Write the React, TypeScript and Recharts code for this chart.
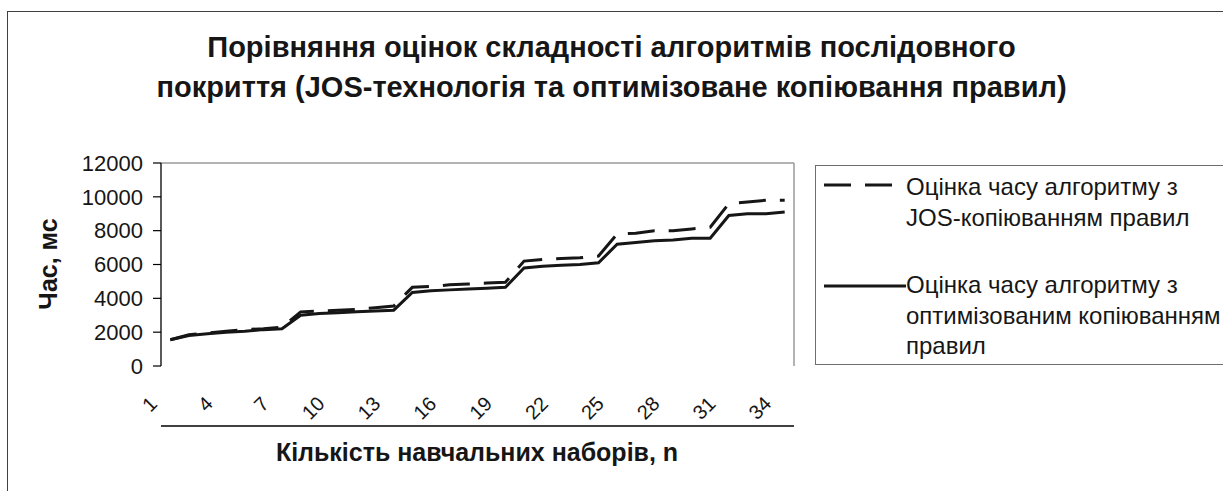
import React from 'react';
import { LineChart, Line, XAxis, YAxis, ReferenceLine, Legend } from 'recharts';

const categories = [1, 2, 3, 4, 5, 6, 7, 8, 9, 10, 11, 12, 13, 14, 15, 16, 17, 18, 19, 20, 21, 22, 23, 24, 25, 26, 27, 28, 29, 30, 31, 32, 33, 34];
const josTime = [1550, 1850, 1950, 2050, 2150, 2200, 2300, 3200, 3250, 3300, 3350, 3450, 3550, 4650, 4700, 4800, 4850, 4900, 4950, 6200, 6300, 6350, 6400, 6500, 7800, 7850, 8000, 8000, 8100, 8200, 9600, 9700, 9800, 9800];
const optTime = [1550, 1800, 1900, 2000, 2050, 2150, 2200, 3000, 3100, 3150, 3200, 3250, 3300, 4350, 4450, 4500, 4550, 4600, 4650, 5800, 5900, 5950, 6000, 6100, 7200, 7300, 7400, 7450, 7550, 7550, 8900, 9000, 9000, 9100];
const yTicks = [0, 2000, 4000, 6000, 8000, 10000, 12000];
const xLabelTicks = [1, 4, 7, 10, 13, 16, 19, 22, 25, 28, 31, 34];
const seriesNames = [
  'Оцінка часу алгоритму з\nJOS-копіюванням правил',
  'Оцінка часу алгоритму з\nоптимізованим копіюванням\nправил',
];
const titleLines = [
  'Порівняння оцінок складності алгоритмів послідовного',
  'покриття (JOS-технологія та оптимізоване копіювання правил)',
];
const xTitle = 'Кількість навчальних наборів, n';
const yTitle = 'Час, мс';

const boundaryTicks = [categories[0] - 0.5, ...categories.map((c) => c + 0.5)];
const xDomain = [categories[0] - 0.5, categories[categories.length - 1] + 0.5];

const data = categories.map((n, i) => ({ n, jos: josTime[i], opt: optTime[i] }));

const FONT = "'Liberation Sans', Arial, sans-serif";
const INK = '#161616';

const RotTick = (props: any) => {
  const { x, payload } = props;
  const px = x - 12;
  const py = 405;
  return (
    <text x={px} y={py} transform={`rotate(-45 ${px} ${py})`} textAnchor="end" fontSize={20} fill={INK} fontFamily={FONT}>
      {payload.value}
    </text>
  );
};

const YTitle = () => (
  <text x={48} y={264} transform="rotate(-90 48 264)" textAnchor="middle" dominantBaseline="central" fontSize={25} fontWeight="bold" fill={INK} fontFamily={FONT}>
    {yTitle}
  </text>
);

const XTitle = () => (
  <text x={477} y={461} textAnchor="middle" fontSize={25} fontWeight="bold" fill={INK} fontFamily={FONT}>
    {xTitle}
  </text>
);

const renderLegend = (props: any) => {
  const payload = props.payload || [];
  const tops = [6, 104];
  const symY = [19, 120];
  return (
    <div style={{ boxSizing: 'border-box', width: 430, height: 200, border: '1.5px solid #6e6e6e', background: '#fff', position: 'relative', fontFamily: FONT }}>
      {payload.map((entry: any, i: number) => {
        const dash = entry?.payload?.strokeDasharray;
        return (
          <React.Fragment key={i}>
            <svg style={{ position: 'absolute', left: 6, top: symY[i] - 5 }} width={84} height={10}>
              <line x1={2} y1={5} x2={dash ? 78 : 84} y2={5} stroke={INK} strokeWidth={3} strokeDasharray={dash} />
            </svg>
            <div style={{ position: 'absolute', left: 90, top: tops[i], fontSize: 24, lineHeight: '30.5px', whiteSpace: 'pre', color: INK }}>
              {entry.value}
            </div>
          </React.Fragment>
        );
      })}
    </div>
  );
};

export default function App() {
  return (
    <div style={{ position: 'absolute', left: 0, top: 0, width: 1223, height: 491, background: '#fff', overflow: 'hidden', fontFamily: FONT }}>
      <div style={{ position: 'absolute', left: 7, top: 10.5, width: 1400, height: 700, border: '1.5px solid #404040' }} />
      <div style={{ position: 'absolute', left: 0, top: 27, width: 1223, textAlign: 'center', fontSize: 29, fontWeight: 'bold', lineHeight: '40px', color: INK }}>
        {titleLines.map((t, i) => (
          <div key={i}>{t}</div>
        ))}
      </div>
      <div style={{ position: 'absolute', left: 0, top: 0 }}>
        <LineChart width={1223} height={491} data={data} margin={{ top: 163, right: 428, bottom: 57, left: 61 }} style={{ fontFamily: FONT }}>
          <XAxis
            xAxisId="marks"
            type="number"
            dataKey="n"
            domain={xDomain}
            ticks={boundaryTicks}
            interval={0}
            tick={false}
            tickSize={7}
            height={8}
            axisLine={{ stroke: '#000', strokeWidth: 1.3 }}
            tickLine={{ stroke: '#000', strokeWidth: 1.2 }}
            allowDataOverflow
            label={<XTitle />}
          />
          <XAxis
            xAxisId="lab"
            type="number"
            dataKey="n"
            domain={xDomain}
            ticks={xLabelTicks}
            interval={0}
            tick={<RotTick />}
            tickLine={false}
            axisLine={false}
            height={60}
            allowDataOverflow
          />
          <YAxis
            yAxisId="left"
            domain={[0, 12000]}
            ticks={yTicks}
            interval={0}
            width={100}
            tickSize={8}
            tickMargin={10}
            tick={{ fontSize: 22, fill: INK, fontFamily: FONT }}
            axisLine={{ stroke: '#000', strokeWidth: 1.3 }}
            tickLine={{ stroke: '#000', strokeWidth: 1.2 }}
            label={<YTitle />}
          />
          <YAxis yAxisId="right" orientation="right" domain={[0, 12000]} width={1} tick={false} tickLine={false} axisLine={{ stroke: '#9a9a9a', strokeWidth: 1.5 }} />
          <ReferenceLine yAxisId="left" xAxisId="lab" y={12000} stroke="#9a9a9a" strokeWidth={1.5} />
          <Legend layout="horizontal" verticalAlign="middle" align="center" wrapperStyle={{ position: 'absolute', left: 815, top: 165, width: 430, height: 200 }} content={renderLegend} />
          <Line xAxisId="lab" yAxisId="left" type="linear" dataKey="jos" name={seriesNames[0]} stroke={INK} strokeWidth={3} strokeDasharray="27 14" dot={false} activeDot={false} isAnimationActive={false} />
          <Line xAxisId="lab" yAxisId="left" type="linear" dataKey="opt" name={seriesNames[1]} stroke={INK} strokeWidth={3} dot={false} activeDot={false} isAnimationActive={false} />
        </LineChart>
      </div>
    </div>
  );
}
